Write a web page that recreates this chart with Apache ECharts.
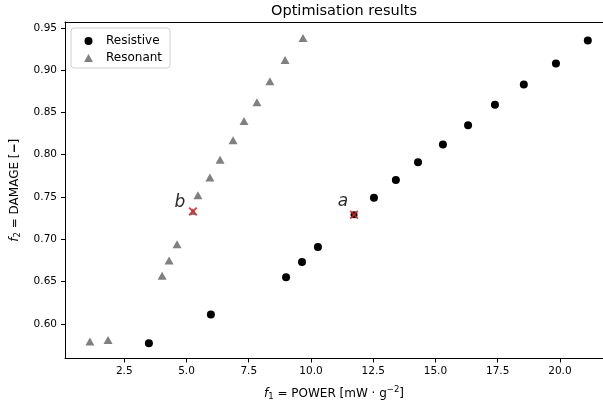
<!DOCTYPE html>
<html>
<head>
<meta charset="utf-8">
<script src="https://cdn.jsdelivr.net/npm/echarts@6/dist/echarts.min.js"></script>
<style>
html, body { margin: 0; padding: 0; background: #fff; }
#chart { width: 603px; height: 406px; }
</style>
</head>
<body>
<div id="chart"></div>
<script>
var resistiveX = [3.49, 5.98, 9.0, 9.64, 10.28, 12.53, 13.41, 14.3, 15.3, 16.31, 17.39, 18.55, 19.84, 21.12];
var resistiveY = [0.577, 0.611, 0.655, 0.673, 0.691, 0.749, 0.770, 0.791, 0.812, 0.835, 0.859, 0.883, 0.908, 0.935];
var resonantX = [1.12, 1.85, 4.02, 4.3, 4.62, 5.46, 5.94, 6.35, 6.87, 7.31, 7.83, 8.35, 8.96, 9.68];
var resonantY = [0.579, 0.581, 0.657, 0.675, 0.694, 0.752, 0.773, 0.794, 0.817, 0.840, 0.862, 0.887, 0.912, 0.938];
var picked = [
    {name: 'a', x: 11.73, y: 0.729, base: 'circle'},
    {name: 'b', x: 5.26, y: 0.733, base: 'triangle'}
];
var xTicks = [2.5, 5.0, 7.5, 10.0, 12.5, 15.0, 17.5, 20.0];
var yTicks = [0.60, 0.65, 0.70, 0.75, 0.80, 0.85, 0.90, 0.95];

var font = 'DejaVu Sans';
var cross = 'path://M1.5,0 L5,3.5 L8.5,0 L10,1.5 L6.5,5 L10,8.5 L8.5,10 L5,6.5 L1.5,10 L0,8.5 L3.5,5 L0,1.5 Z';

function zip(xs, ys) {
    return xs.map(function (v, i) { return [v, ys[i]]; });
}

var myChart = echarts.init(document.getElementById('chart'));
var option = {
    animation: false,
    backgroundColor: '#fff',
    textStyle: {fontFamily: font},
    title: {
        text: 'Optimisation results',
        left: 339,
        top: 2,
        padding: [2, 5],
        textAlign: 'center',
        textStyle: {fontFamily: font, fontSize: 14.5, fontWeight: 'normal', color: '#000'}
    },
    legend: {
        orient: 'vertical',
        left: 71,
        top: 28,
        padding: [7, 8, 4, 13],
        itemWidth: 9,
        itemHeight: 8,
        itemGap: 5,
        borderColor: '#d0d0d0',
        borderWidth: 1,
        borderRadius: 3,
        textStyle: {fontFamily: font, fontSize: 12, color: '#000', padding: [0, 0, 0, 8]},
        data: [
            {name: 'Resistive', icon: 'circle'},
            {name: 'Resonant', icon: 'triangle'}
        ]
    },
    grid: {left: 65, right: 0, top: 22, bottom: 44},
    xAxis: [{
        type: 'value',
        min: 0.12,
        max: 21.73,
        splitLine: {show: false},
        axisLine: {lineStyle: {color: '#000', width: 1}},
        axisTick: {show: true, length: 4, customValues: xTicks, lineStyle: {color: '#000'}},
        axisLabel: {
            customValues: xTicks, margin: 7, fontFamily: font, fontSize: 10.5, color: '#000',
            formatter: function (v) { return v.toFixed(1); }
        },
        name: '{i|f}{sub|1}{t| = POWER [mW \u00b7 g}{sup|\u22122}{t|]}',
        nameLocation: 'middle',
        nameGap: 27,
        nameTextStyle: {
            rich: {
                i: {fontFamily: font, fontSize: 12, fontStyle: 'italic', color: '#000'},
                t: {fontFamily: font, fontSize: 12, color: '#000'},
                sub: {fontFamily: font, fontSize: 8.5, color: '#000', padding: [6, 0, 0, 0]},
                sup: {fontFamily: font, fontSize: 8.5, color: '#000', padding: [0, 0, 7, 0]}
            }
        }
    }, {
        type: 'value',
        position: 'top',
        min: 0.12,
        max: 21.73,
        splitLine: {show: false},
        axisLine: {lineStyle: {color: '#000', width: 1}},
        axisTick: {show: false},
        axisLabel: {show: false}
    }],
    yAxis: {
        type: 'value',
        min: 0.559,
        max: 0.957,
        splitLine: {show: false},
        axisLine: {show: true, lineStyle: {color: '#000', width: 1}},
        axisTick: {show: true, length: 4, customValues: yTicks, lineStyle: {color: '#000'}},
        axisLabel: {
            customValues: yTicks, margin: 8, fontFamily: font, fontSize: 10.5, color: '#000',
            formatter: function (v) { return v.toFixed(2); }
        },
        name: '{i|f}{sub|2}{t| = DAMAGE [}{b|\u2212}{t|]}',
        nameLocation: 'middle',
        nameGap: 41,
        nameTextStyle: {
            rich: {
                i: {fontFamily: font, fontSize: 12, fontStyle: 'italic', color: '#000'},
                t: {fontFamily: font, fontSize: 12, color: '#000'},
                b: {fontFamily: font, fontSize: 12, fontWeight: 'bold', color: '#000'},
                sub: {fontFamily: font, fontSize: 8.5, color: '#000', padding: [6, 0, 0, 0]}
            }
        }
    },
    series: [
        {
            name: 'Resistive',
            type: 'scatter',
            symbol: 'circle',
            symbolSize: 8,
            itemStyle: {color: '#000', opacity: 1},
            data: zip(resistiveX, resistiveY)
        },
        {
            name: 'Resonant',
            type: 'scatter',
            symbol: 'triangle',
            symbolSize: [9, 8],
            itemStyle: {color: '#808080', opacity: 1},
            data: zip(resonantX, resonantY)
        },
        {
            name: 'pickedBase',
            type: 'scatter',
            symbolSize: 7,
            itemStyle: {color: '#000', opacity: 1},
            data: picked.map(function (p) {
                return {value: [p.x, p.y], symbol: p.base,
                        itemStyle: {color: p.base === 'circle' ? '#000' : '#808080'}};
            })
        },
        {
            name: 'picked',
            type: 'scatter',
            symbol: cross,
            symbolSize: 9,
            itemStyle: {color: '#d62728', opacity: 0.85},
            label: {
                show: true,
                position: 'inside',
                fontFamily: font,
                fontSize: 17,
                fontStyle: 'italic',
                color: '#000',
                formatter: function (p) { return p.name; }
            },
            data: picked.map(function (p) {
                return {name: p.name, value: [p.x, p.y],
                        label: {offset: p.name === 'a' ? [-11, -13] : [-13, -9]}};
            })
        }
    ]
};
myChart.setOption(option);
</script>
</body>
</html>
